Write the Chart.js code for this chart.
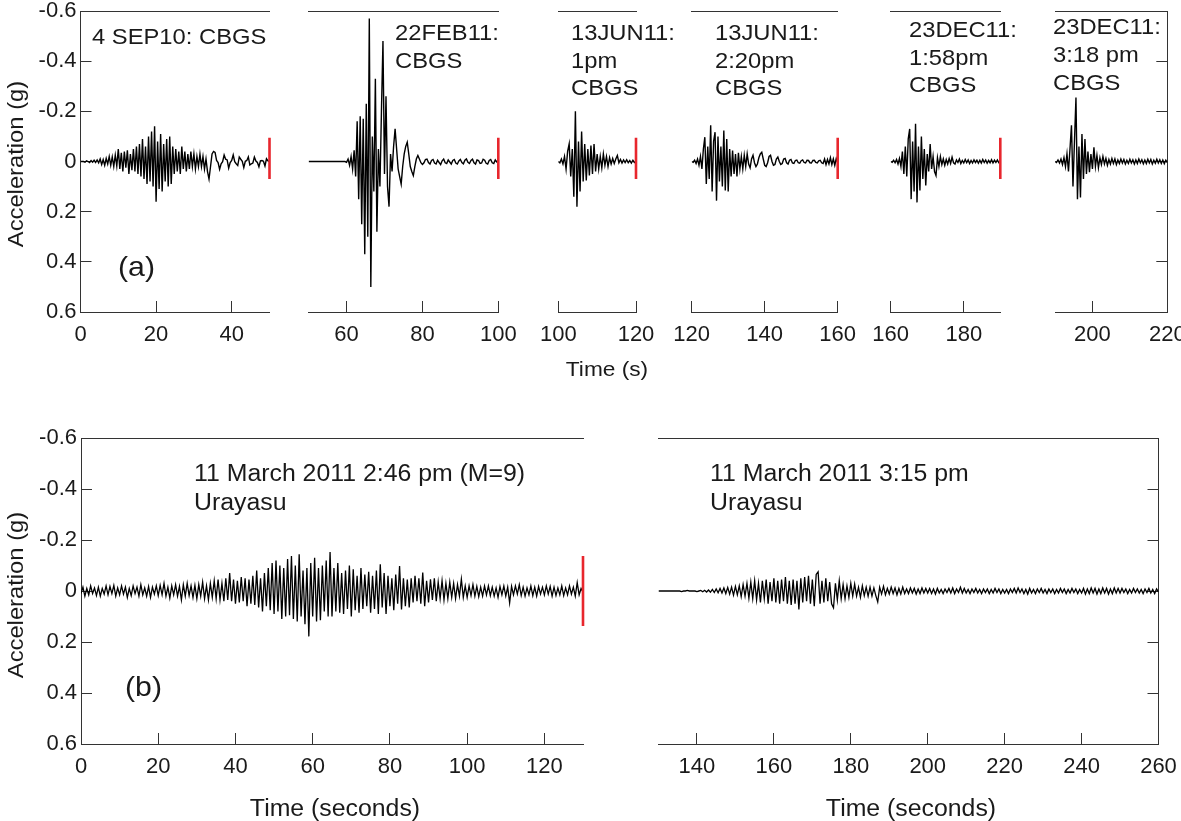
<!DOCTYPE html>
<html>
<head>
<meta charset="utf-8">
<script src="https://cdn.jsdelivr.net/npm/chart.js@4.4.0/dist/chart.umd.min.js"></script>
<style>
html,body{margin:0;padding:0;background:#fff;}
#wrap{position:relative;width:1181px;height:821px;overflow:hidden;font-family:"Liberation Sans",Arial,sans-serif;color:#1a1a1a;}
canvas{position:absolute;left:0;top:0;}
.t{position:absolute;white-space:nowrap;transform-origin:0 0;transform:scaleX(1.08);font-size:22px;line-height:27.5px;}
.tc{position:absolute;white-space:nowrap;transform-origin:50% 0;transform:translateX(-50%) scaleX(1.08);}
.tr{position:absolute;white-space:nowrap;transform-origin:50% 50%;transform:translate(-50%,-50%) rotate(-90deg) scaleX(1.08);font-size:22px;line-height:22px;}
</style>
</head>
<body>
<div id="wrap">
<canvas id="c0" width="1181" height="821"></canvas>
<canvas id="c1" width="1181" height="821"></canvas>
<canvas id="c2" width="1181" height="821"></canvas>
<canvas id="c3" width="1181" height="821"></canvas>
<canvas id="c4" width="1181" height="821"></canvas>
<canvas id="c5" width="1181" height="821"></canvas>
<canvas id="c6" width="1181" height="821"></canvas>
<canvas id="c7" width="1181" height="821"></canvas>

<div class="t" style="left:91.7px;top:22.7px">4 SEP10: CBGS</div>
<div class="t" style="left:395px;top:19.4px">22FEB11:<br>CBGS</div>
<div class="t" style="left:570.7px;top:19.4px">13JUN11:<br>1pm<br>CBGS</div>
<div class="t" style="left:715px;top:19.4px">13JUN11:<br>2:20pm<br>CBGS</div>
<div class="t" style="left:909.3px;top:16.1px">23DEC11:<br>1:58pm<br>CBGS</div>
<div class="t" style="left:1053.3px;top:12.7px;line-height:28px">23DEC11:<br>3:18 pm<br>CBGS</div>
<div class="t" style="left:118px;top:253px;font-size:28px;line-height:28px">(a)</div>
<div class="t" style="left:125px;top:673px;font-size:28px;line-height:28px">(b)</div>
<div class="t" style="left:194px;top:459px;font-size:23px;line-height:29px">11 March 2011 2:46 pm (M=9)<br>Urayasu</div>
<div class="t" style="left:709.7px;top:459px;font-size:23px;line-height:29px">11 March 2011 3:15 pm<br>Urayasu</div>
<div class="tc" style="left:607px;top:358.3px;font-size:21px;line-height:21px">Time (s)</div>
<div class="tc" style="left:335px;top:797px;font-size:23px;line-height:23px">Time (seconds)</div>
<div class="tc" style="left:911px;top:797px;font-size:23px;line-height:23px">Time (seconds)</div>
<div class="tr" style="left:16px;top:164px">Acceleration (g)</div>
<div class="tr" style="left:16px;top:595px">Acceleration (g)</div>
</div>

<script>
// ---------------- DATA ----------------
// Acceleration (g); negative values plot upward (reversed axis)
const Y_TICKS = [-0.6, -0.4, -0.2, 0, 0.2, 0.4, 0.6];

// x tick values per panel
const P1_XTICKS = [0, 20, 40];
const P2_XTICKS = [60, 80, 100];
const P3_XTICKS = [100, 120];
const P4_XTICKS = [120, 140, 160];
const P5_XTICKS = [160, 180];
const P6_XTICKS = [200, 220];
const B1_XTICKS = [0, 20, 40, 60, 80, 100, 120];
const B2_XTICKS = [140, 160, 180, 200, 220, 240, 260];

// record start times (s) and sample step (s)
const TOP_DT = 0.4;
const BOT_DT = 0.5;
const P1_T0 = 0, P2_T0 = 50, P3_T0 = 100, P4_T0 = 120, P5_T0 = 160, P6_T0 = 190;
const B1_T0 = 0, B2_T0 = 130;

// red end-of-record markers (g)
const RED_TOP = [-0.095, 0.07];
const RED_BOT = [-0.137, 0.137];

// 4 SEP10: CBGS (0-50 s)
const P1_VALUES = [
 0,0,0,.003,-.003,0,.004,-.004,.003,-.005,.004,-.006,.005,
 -.01,.012,-.008,.015,-.012,.01,-.02,.015,-.018,.02,-.025,.018,
 -.05,.03,-.035,.04,-.04,.025,-.045,.05,-.03,.035,-.05,.04,-.06,
 .05,-.07,.06,-.09,.07,-.06,.09,-.1,.08,-.12,.1,-.14,.16,
 -.08,.11,-.11,.12,-.07,.08,-.09,.1,-.1,.09,
 -.06,.05,-.05,.04,-.04,.05,-.06,.03,-.04,.04,
 -.03,.03,-.04,.02,-.03,.03,-.02,.02,-.03,.02,
 -.02,.03,-.01,.04,.07,.02,-.03,-.04,-.036,-.004,
 .004,.031,.009,.001,-.026,-.009,-.006,.026,.004,-.004,
 -.026,.001,.009,.016,-.018,-.009,-.001,.024,-.001,-.004,
 -.018,.014,.009,.006,-.018,-.002,.004,.021,-.003,-.004,
 -.001,.018,-.011,-.002,0
];
// 22FEB11: CBGS (50-100 s)
const P2_VALUES = [
 0,0,0,0,0,0,0,0,0,0,0,0,0,0,0,0,0,0,0,0,0,0,0,0,0,
 .003,-.01,.015,-.02,.03,-.045,.06,
 -.16,.15,-.18,.25,-.17,.37,-.23,.3,-.57,.5,
 -.1,.12,-.33,.28,-.05,.1,-.2,-.48,.05,-.26,
 .1,.18,-.03,.04,-.06,-.13,-.05,.03,.06,.09,
 .02,-.03,-.06,-.077,-.03,.02,.04,.056,.02,-.01,
 -.024,-.01,.005,.012,.005,-.008,-.01,.004,.01,-.004,
 -.008,.006,.01,-.005,.004,.012,-.003,-.01,.005,.008,
 -.006,.002,.01,-.004,-.008,.006,.01,-.002,-.008,.004,
 .009,-.005,-.01,.003,.008,-.004,-.009,.005,.01,-.006,
 -.004,.008,.006,-.009,-.005,.007,.01,-.004,-.008,.005,
 .008,-.006,.002,-.005
];
// 13JUN11: 1pm CBGS (100-120 s)
const P3_VALUES = [
 0,.005,-.01,.01,-.02,.03,-.04,-.07,.06,-.05,.14,
 -.2,.18,-.08,.12,-.12,.08,-.07,.076,-.05,.056,
 -.064,.05,-.07,.04,-.03,.03,-.02,.025,-.03,.015,
 -.02,.02,-.015,.01,-.012,.008,-.01,-.024,.005,-.008,
 .006,-.006,.004,-.007,.005,-.004,.006,-.005,.004,0
];
// 13JUN11: 2:20pm CBGS (120-160 s)
const P4_VALUES = [
 0,.003,-.005,.008,-.01,.015,-.02,.03,-.05,-.097,
 .09,-.06,.07,-.144,.12,-.08,-.117,.156,-.1,.08,
 -.06,.1,-.124,.116,-.09,.12,-.05,.06,-.044,.05,
 -.03,.06,-.035,.03,-.02,.03,-.025,.02,-.03,.01,
 .025,-.01,-.025,.005,.02,.01,-.015,-.03,-.037,-.01,
 .015,.02,.005,-.02,-.025,0,.015,.012,-.01,-.018,
 0,.012,.008,-.01,-.012,.005,.01,-.005,-.008,.006,
 .008,-.004,-.006,.005,.007,-.003,-.006,.004,.006,-.005,
 -.004,.005,.006,-.004,-.005,.004,.006,-.003,-.005,.005,
 .008,-.01,.012,-.008,.01,-.015,.012,-.01,.015,-.012,.005
];
// 23DEC11: 1:58pm CBGS (160-190 s)
const P5_VALUES = [
 0,.003,-.005,.005,-.008,.01,-.012,.02,-.04,.05,
 -.06,.06,-.09,-.13,.15,-.08,.12,-.15,.163,-.06,
 .116,-.1,.07,-.05,.096,-.03,.04,-.07,.03,-.02,
 .04,.056,-.015,.02,-.02,.012,-.01,.015,-.008,.01,
 -.012,.008,-.017,.005,.01,-.006,.004,-.01,.008,-.004,
 .006,-.008,.005,-.006,.008,-.004,.006,-.007,.004,-.005,
 .007,-.005,.006,-.008,.004,-.006,.007,-.004,.005,-.007,
 .006,-.005,.004,-.006,.005,0
];
// 23DEC11: 3:18 pm CBGS (190-220 s)
const P6_VALUES = [
 0,.004,-.006,.006,-.01,.012,-.015,.02,-.03,.04,
 -.05,-.144,.1,-.08,-.255,.15,-.06,.143,-.11,.07,
 -.09,.05,-.04,.043,-.03,.03,-.057,.02,-.025,.025,
 -.015,.012,-.02,.01,-.012,.015,-.008,.01,-.012,.008,
 -.01,.012,-.006,.008,-.01,.006,-.008,.01,-.005,.008,
 -.009,.006,-.007,.01,-.006,.008,-.01,.005,-.007,.009,
 -.006,.008,-.009,.006,-.008,.01,-.005,.007,-.009,.006,
 -.007,.008,-.006,.009,-.005,.004
];
// 11 March 2011 2:46 pm (M=9) Urayasu (0-130 s)
const B1_VALUES = [
 .01,-.015,.02,-.01,.015,-.02,.01,-.012,.018,-.015,
 .02,-.01,.012,-.02,.015,-.018,.01,-.022,.02,-.012,
 .015,-.02,.012,-.015,.025,-.01,.018,-.02,.01,-.015,
 .02,-.025,.015,-.012,.02,-.018,.025,-.015,.012,-.02,
 .018,-.022,.015,-.03,.02,-.015,.028,-.02,.015,-.025,
 .02,-.018,.035,-.025,.02,-.03,.018,-.02,.025,-.022,
 .03,-.025,.02,-.035,.03,-.02,.035,-.03,.025,-.04,
 .03,-.045,.035,-.03,.04,-.05,.035,-.07,.04,-.045,
 .05,-.04,.045,-.055,.04,-.05,.06,-.045,.05,-.06,
 .055,-.08,.065,-.05,.08,-.07,.06,-.09,.075,-.11,
 .09,-.12,.08,-.1,.11,-.09,.1,-.125,.095,-.137,
 .11,-.1,.12,-.144,.1,-.08,.13,-.09,.178,-.11,
 .1,-.13,.12,-.09,.115,-.1,.08,-.12,.1,-.153,
 .1,-.09,.08,-.11,.085,-.07,.09,-.08,.07,-.1,
 .1,-.085,.075,-.06,.085,-.09,.07,-.065,.06,-.075,
 .085,-.06,.07,-.08,.09,-.105,.065,-.07,.09,-.06,
 .06,-.05,.075,-.065,.05,-.098,.072,-.05,.06,-.045,
 .065,-.05,.045,-.06,.04,-.05,.05,-.072,.06,-.04,
 .045,-.046,.035,-.05,.04,-.035,.03,-.04,.035,-.03,
 .03,-.035,.025,-.03,.03,-.025,.02,-.046,.025,-.02,
 .025,-.02,.018,-.025,.02,-.018,.022,-.015,.02,-.02,
 .015,-.02,.018,-.015,.02,-.012,.025,-.018,.015,-.02,
 .02,-.015,.046,-.018,.015,-.02,.012,-.025,.018,-.015,
 .02,-.012,.015,-.02,.018,-.015,.02,-.018,.012,-.015,
 .015,-.02,.012,-.018,.02,-.015,.018,-.012,.015,-.02,
 .018,-.012,.015,-.02,.012,-.015,.02,-.033,.015,-.01,.005
];
// 11 March 2011 3:15 pm Urayasu (130-260 s)
const B2_VALUES = [
 0,0,0,0,0,0,0,0,0,0,
 0,0,.002,0,0,-.002,0,0,0,0,
 .002,0,-.002,.003,-.003,.004,-.004,.005,-.006,.006,
 -.008,.007,-.01,.008,-.012,.01,-.014,.012,-.015,.016,
 -.018,.015,-.02,.022,-.025,.02,-.03,.028,-.035,.03,
 -.04,.035,-.03,.045,-.04,.03,-.045,.05,-.035,.04,
 -.05,.045,-.04,.05,-.045,.04,-.055,.05,-.04,.055,
 -.045,.05,-.04,.072,-.05,.045,-.055,.04,-.06,.05,
 -.045,.06,-.065,-.075,.05,-.04,.045,-.05,.04,-.035,
 .05,.066,-.03,.035,-.04,.03,-.025,.03,-.02,.025,
 -.03,.02,-.027,.02,-.015,.025,-.02,.018,-.015,.02,
 -.015,.02,-.012,.018,.043,-.015,.012,-.018,.015,-.01,
 .012,-.015,.01,-.012,.015,-.01,.012,-.015,.01,-.008,
 .01,-.012,.008,-.01,.012,-.008,.01,-.012,.008,-.01,
 .008,-.01,.01,-.008,.012,-.01,.008,-.006,.01,-.008,
 .006,-.01,.008,-.012,.01,-.008,.006,-.015,.008,-.01,
 .008,-.006,.01,-.008,.006,-.01,.008,-.006,.01,-.008,
 .006,-.008,.01,-.006,.008,-.01,.006,-.008,.01,-.006,
 .008,-.006,.01,-.008,.006,-.01,.008,-.012,.006,-.008,
 .01,-.006,.012,-.01,.008,-.006,.01,-.008,.006,-.01,
 .008,-.006,.01,-.008,.006,-.008,.01,-.006,.008,-.01,
 .006,-.008,.01,-.006,.008,-.01,.006,-.008,.01,-.006,
 .008,-.01,.012,-.008,.01,-.012,.008,-.01,.012,-.008,
 .01,-.012,.008,-.01,.012,-.008,.01,-.012,.008,-.01,
 .008,-.01,.006,-.008,.01,-.006,.008,-.01,.006,-.008,
 .008,-.006,.01,-.008,.006,-.01,.008,-.006,.01,-.008,.004
];

// ---------------- LAYOUT ----------------
const W = 1181, H = 821;
const XBAND = 60;   // height reserved for x tick labels
const YBAND = 75;   // width reserved for left y tick labels
const PANELS = [
  {id:'c0', L:80.5,  R:269.5,  T:11,  B:312, min:0,   max:50,  xt:P1_XTICKS, t0:P1_T0, dt:TOP_DT, v:P1_VALUES, red:RED_TOP, yPos:'left', lw:1.4},
  {id:'c1', L:308.6, R:498.3,  T:11,  B:312, min:50,  max:100, xt:P2_XTICKS, t0:P2_T0, dt:TOP_DT, v:P2_VALUES, red:RED_TOP, lw:1.4},
  {id:'c2', L:558.3, R:636,    T:11,  B:312, min:100, max:120, xt:P3_XTICKS, t0:P3_T0, dt:TOP_DT, v:P3_VALUES, red:RED_TOP, lw:1.4},
  {id:'c3', L:691.7, R:837.7,  T:11,  B:312, min:120, max:160, xt:P4_XTICKS, t0:P4_T0, dt:TOP_DT, v:P4_VALUES, red:RED_TOP, lw:1.4},
  {id:'c4', L:890.7, R:1000.3, T:11,  B:312, min:160, max:190, xt:P5_XTICKS, t0:P5_T0, dt:TOP_DT, v:P5_VALUES, red:RED_TOP, lw:1.4},
  {id:'c5', L:1055,  R:1167.3, T:11,  B:312, min:190, max:220, xt:P6_XTICKS, t0:P6_T0, dt:TOP_DT, v:P6_VALUES, yPos:'right', lw:1.4},
  {id:'c6', L:81,    R:583,    T:438, B:744, min:0,   max:130, xt:B1_XTICKS, t0:B1_T0, dt:BOT_DT, v:B1_VALUES, red:RED_BOT, yPos:'left', lw:1.3},
  {id:'c7', L:658.5, R:1158.5, T:438, B:744, min:130, max:260, xt:B2_XTICKS, t0:B2_T0, dt:BOT_DT, v:B2_VALUES, yPos:'right', lw:1.3}
];

const FONT = {family:'"Liberation Sans", Arial, sans-serif', size:22};
const AXIS_COLOR = '#333';
const TEXT_COLOR = '#1a1a1a';

function fitTo(size){
  return s => {
    if (s.isHorizontal()) s.height = size; else s.width = size;
    s.paddingLeft = 0; s.paddingRight = 0; s.paddingTop = 0; s.paddingBottom = 0;
  };
}
function series(t0, dt, vals){
  return vals.map((y, i) => ({x: Math.round((t0 + i*dt)*1000)/1000, y}));
}

PANELS.forEach(p => {
  const datasets = [];
  if (p.red) {
    datasets.push({data: p.red.map(y => ({x: p.max, y})), borderColor:'#e8262d', borderWidth:2.6,
      pointRadius:0, clip:false, borderCapStyle:'butt'});
  }
  datasets.push({data: series(p.t0, p.dt, p.v), borderColor:'#000', borderWidth:p.lw, pointRadius:0, tension:0,
    borderJoinStyle:'miter'});

  const leftBand = p.yPos === 'left' ? YBAND : 0;
  const xticks = p.xt;
  new Chart(document.getElementById(p.id), {
    type:'line',
    data:{datasets},
    options:{
      responsive:false, animation:false, devicePixelRatio:1, events:[],
      layout:{padding:{left:p.L - leftBand, top:p.T, right:W - p.R, bottom:H - p.B - XBAND}},
      plugins:{legend:{display:false}, tooltip:{enabled:false}},
      scales:{
        x:{type:'linear', position:'bottom', min:p.min, max:p.max,
          afterBuildTicks: s => { s.ticks = xticks.map(v => ({value:v})); },
          afterFit: fitTo(XBAND),
          ticks:{display:true, autoSkip:false, maxRotation:0, minRotation:0, padding:21,
            font:FONT, color:TEXT_COLOR, callback: v => String(v)},
          grid:{display:true, drawOnChartArea:false, drawTicks:true, tickLength:-11, color:AXIS_COLOR, lineWidth:1},
          border:{display:true, color:AXIS_COLOR, width:1}
        },
        xtop:{type:'linear', position:'top', min:p.min, max:p.max, display:true,
          afterFit: fitTo(0),
          ticks:{display:false}, grid:{display:false},
          border:{display:true, color:AXIS_COLOR, width:1}
        },
        y:{type:'linear', position: p.yPos || 'left', reverse:true, min:-0.6, max:0.6,
          display: !!p.yPos,
          afterBuildTicks: s => { s.ticks = Y_TICKS.map(v => ({value:v})); },
          afterFit: fitTo(leftBand),
          ticks:{display: p.yPos === 'left', padding:15, font:FONT, color:TEXT_COLOR, callback: v => String(v)},
          grid:{display:true, drawOnChartArea:false, drawTicks:true, tickLength:-11, color:AXIS_COLOR, lineWidth:1},
          border:{display:true, color:AXIS_COLOR, width:1}
        }
      }
    }
  });
});
</script>
</body>
</html>
